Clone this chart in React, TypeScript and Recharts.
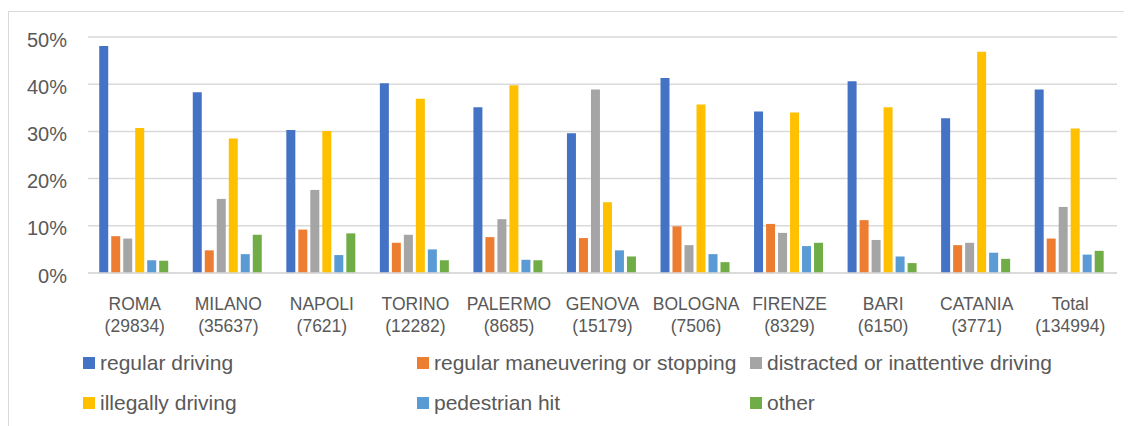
import React from 'react';
import { BarChart, Bar, XAxis, YAxis, CartesianGrid, Legend } from 'recharts';

const cities = ['ROMA', 'MILANO', 'NAPOLI', 'TORINO', 'PALERMO', 'GENOVA', 'BOLOGNA', 'FIRENZE', 'BARI', 'CATANIA', 'Total'];
const counts = ['29834', '35637', '7621', '12282', '8685', '15179', '7506', '8329', '6150', '3771', '134994'];

const regularDriving = [48.1, 38.3, 30.3, 40.2, 35.1, 29.6, 41.3, 34.2, 40.6, 32.8, 38.9];
const regularManeuvering = [7.8, 4.8, 9.2, 6.4, 7.6, 7.4, 9.9, 10.4, 11.2, 5.9, 7.3];
const distracted = [7.3, 15.7, 17.6, 8.1, 11.4, 38.9, 5.9, 8.5, 7.0, 6.4, 14.0];
const illegally = [30.7, 28.5, 30.1, 36.9, 39.8, 15.0, 35.7, 34.0, 35.1, 46.9, 30.6];
const pedestrian = [2.7, 4.0, 3.8, 5.0, 2.8, 4.8, 4.0, 5.7, 3.5, 4.3, 3.9];
const other = [2.6, 8.1, 8.4, 2.7, 2.7, 3.5, 2.3, 6.4, 2.1, 3.0, 4.7];

const yTicks = [0, 10, 20, 30, 40, 50];

const series = [
  { key: 'regularDriving', name: 'regular driving', color: '#4472C4' },
  { key: 'regularManeuvering', name: 'regular maneuvering or stopping', color: '#ED7D31' },
  { key: 'distracted', name: 'distracted or inattentive driving', color: '#A5A5A5' },
  { key: 'illegally', name: 'illegally driving', color: '#FFC000' },
  { key: 'pedestrian', name: 'pedestrian hit', color: '#5B9BD5' },
  { key: 'other', name: 'other', color: '#70AD47' },
];

const data = cities.map((city, i) => ({
  city,
  count: counts[i],
  regularDriving: regularDriving[i],
  regularManeuvering: regularManeuvering[i],
  distracted: distracted[i],
  illegally: illegally[i],
  pedestrian: pedestrian[i],
  other: other[i],
}));

// no serif font in the sandbox, Liberation Sans is metric-close enough
const FONT = "'Liberation Sans', Arial, sans-serif";
const TEXT = '#595959';

const CityTick = (props: any) => {
  const { x, y, payload } = props;
  const i = cities.indexOf(payload.value);
  return (
    <g transform={`translate(${x},${y})`}>
      <text x={0} y={23} textAnchor="middle" dominantBaseline="central" fill={TEXT} fontSize={17.5} style={{ fontFamily: FONT }}>
        {payload.value}
      </text>
      <text x={0} y={45} textAnchor="middle" dominantBaseline="central" fill={TEXT} fontSize={17.5} style={{ fontFamily: FONT }}>
        ({counts[i]})
      </text>
    </g>
  );
};

const PctTick = (props: any) => {
  const { x, y, payload } = props;
  return (
    <text x={x} y={y + 2.5} textAnchor="end" dominantBaseline="central" fill={TEXT} fontSize={20} style={{ fontFamily: FONT }}>
      {`${payload.value}%`}
    </text>
  );
};

// legend laid out in 3 columns x 2 rows like the Excel original
const colX = [74, 408, 741];
const rowY = [30, 70];

const LegendGrid = () => (
  <div style={{ position: 'relative', width: 1122, height: 93, fontFamily: FONT, fontSize: 21, color: TEXT }}>
    {series.map((s, i) => {
      const col = i % 3;
      const row = Math.floor(i / 3);
      return (
        <div
          key={s.key}
          style={{
            position: 'absolute',
            left: colX[col],
            top: rowY[row] - 13,
            height: 26,
            display: 'flex',
            alignItems: 'center',
            whiteSpace: 'nowrap',
          }}
        >
          <span style={{ display: 'inline-block', width: 12, height: 12, background: s.color, marginRight: 5 }} />
          <span>{s.name}</span>
        </div>
      );
    })}
  </div>
);

export default function App() {
  return (
    <div style={{ marginTop: 3, width: 1122, height: 414, border: '1px solid #d9d9d9', borderRight: 'none', borderBottom: 'none', background: '#fff', fontFamily: FONT }}>
      <BarChart
        width={1122}
        height={414}
        data={data}
        margin={{ top: 25, right: 14, left: 0, bottom: 0 }}
        barCategoryGap="12%"
        barGap={3}
        style={{ fontFamily: FONT }}
      >
        <CartesianGrid vertical={false} stroke="#d9d9d9" strokeWidth={1.5} />
        <XAxis
          dataKey="city"
          height={60}
          interval={0}
          tickLine={false}
          axisLine={{ stroke: '#d9d9d9', strokeWidth: 1.5 }}
          tick={<CityTick />}
        />
        <YAxis
          width={79}
          domain={[0, 50]}
          ticks={yTicks}
          tickLine={false}
          axisLine={false}
          tickSize={0}
          tickMargin={21}
          tick={<PctTick />}
        />
        <Legend
          verticalAlign="bottom"
          height={93}
          wrapperStyle={{ left: 0, width: 1122 }}
          content={<LegendGrid />}
        />
        {series.map((s) => (
          <Bar key={s.key} dataKey={s.key} name={s.name} fill={s.color} isAnimationActive={false} />
        ))}
      </BarChart>
    </div>
  );
}
